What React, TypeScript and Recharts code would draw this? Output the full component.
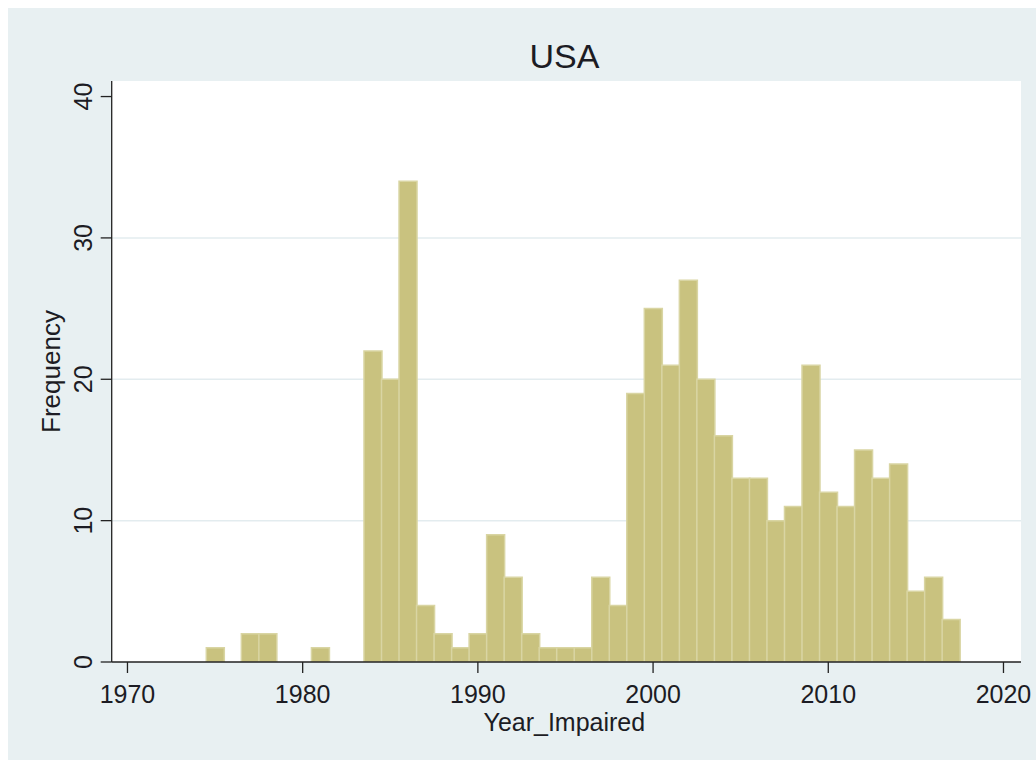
import React from 'react';
import { BarChart, Bar, XAxis, YAxis, CartesianGrid, Label } from 'recharts';

// ---- data ----
const years = [
  1975, 1976, 1977, 1978, 1979, 1980, 1981, 1982, 1983, 1984,
  1985, 1986, 1987, 1988, 1989, 1990, 1991, 1992, 1993, 1994,
  1995, 1996, 1997, 1998, 1999, 2000, 2001, 2002, 2003, 2004,
  2005, 2006, 2007, 2008, 2009, 2010, 2011, 2012, 2013, 2014,
  2015, 2016, 2017,
];
const frequencies = [
  1, 0, 2, 2, 0, 0, 1, 0, 0, 22,
  20, 34, 4, 2, 1, 2, 9, 6, 2, 1,
  1, 1, 6, 4, 19, 25, 21, 27, 20, 16,
  13, 13, 10, 11, 21, 12, 11, 15, 13, 14,
  5, 6, 3,
];
const xTicks = [1970, 1980, 1990, 2000, 2010, 2020];
const yTicks = [0, 10, 20, 30, 40];
const gridValues = [10, 20, 30];
const xDomain = [1969.1, 2021];
const yDomain = [0, 41.1];
const titleText = 'USA';
const xLabelText = 'Year_Impaired';
const yLabelText = 'Frequency';

// ---- styles ----
const FONT = '"Liberation Sans", Arial, Helvetica, sans-serif';
const TEXT = '#1c1c24';
const AXIS = '#222222';
const PANEL = '#E8F0F2';
const BAR_FILL = '#C9C27F';
const BAR_EDGE = '#D9D5A3';
const GRID = '#E3ECEF';

const XTick = (props: any) => {
  const { x, y, payload } = props;
  return (
    <text x={x} y={y} dy={27.5} textAnchor="middle" fontFamily={FONT} fontSize={25} fill={TEXT}>
      {payload.value}
    </text>
  );
};

const YTick = (props: any) => {
  const { x, y, payload } = props;
  const bx = x - 7;
  return (
    <text
      x={bx}
      y={y}
      transform={`rotate(-90, ${bx}, ${y})`}
      textAnchor="middle"
      fontFamily={FONT}
      fontSize={25}
      fill={TEXT}
    >
      {payload.value}
    </text>
  );
};

export default function App() {
  const data = years.map((year, i) => ({ year, frequency: frequencies[i] }));
  return (
    <div style={{ position: 'fixed', left: 0, top: 0, width: 1036, height: 761, overflow: 'hidden', background: '#fff' }}>
      <div style={{ position: 'absolute', left: 8, top: 8, width: 1028, height: 752, background: PANEL }}>
        <BarChart
          width={1028}
          height={752}
          data={data}
          margin={{ top: 73, right: 15, bottom: 38, left: 3.7 }}
          barCategoryGap={0}
          barGap={0}
        >
          <CartesianGrid vertical={false} horizontalValues={gridValues} fill="#ffffff" stroke={GRID} strokeWidth={1.5} />
          <XAxis
            type="number"
            dataKey="year"
            domain={xDomain}
            ticks={xTicks}
            interval={0}
            allowDataOverflow
            tickSize={11}
            height={60}
            axisLine={{ stroke: AXIS, strokeWidth: 1.3 }}
            tickLine={{ stroke: AXIS, strokeWidth: 1.3 }}
            tick={(p: any) => <XTick {...p} />}
          >
            <Label
              content={(p: any) => {
                const vb = p.viewBox || { x: 103.7, y: 654, width: 909.3, height: 60 };
                return (
                  <text
                    x={vb.x + vb.width / 2 - 2}
                    y={vb.y + 69}
                    textAnchor="middle"
                    fontFamily={FONT}
                    fontSize={25}
                    fill={TEXT}
                  >
                    {xLabelText}
                  </text>
                );
              }}
            />
          </XAxis>
          <YAxis
            type="number"
            domain={yDomain}
            ticks={yTicks}
            interval={0}
            allowDataOverflow
            width={100}
            tickSize={11}
            axisLine={{ stroke: AXIS, strokeWidth: 1.3 }}
            tickLine={{ stroke: AXIS, strokeWidth: 1.3 }}
            tick={(p: any) => <YTick {...p} />}
          >
            <Label
              content={(p: any) => {
                const vb = p.viewBox || { x: 3.7, y: 73, width: 100, height: 581 };
                const bx = vb.x + 48.3;
                const cy = vb.y + vb.height / 2;
                return (
                  <text
                    x={bx}
                    y={cy}
                    transform={`rotate(-90, ${bx}, ${cy})`}
                    textAnchor="middle"
                    fontFamily={FONT}
                    fontSize={26}
                    fill={TEXT}
                  >
                    {yLabelText}
                  </text>
                );
              }}
            />
          </YAxis>
          <Bar
            dataKey="frequency"
            fill={BAR_FILL}
            stroke={BAR_EDGE}
            strokeWidth={1.5}
            isAnimationActive={false}
          />
        </BarChart>
        <svg
          width={1028}
          height={752}
          style={{ position: 'absolute', left: 0, top: 0, pointerEvents: 'none' }}
        >
          <text x={556.5} y={59.7} textAnchor="middle" fontFamily={FONT} fontSize={34} fill={TEXT}>
            {titleText}
          </text>
        </svg>
      </div>
    </div>
  );
}
